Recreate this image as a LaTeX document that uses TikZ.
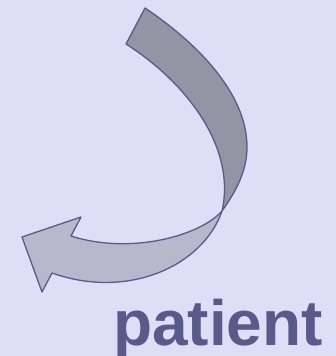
\documentclass[tikz,border=0pt]{standalone}
\usepackage{fontspec}
\setmainfont{Liberation Sans}
\definecolor{lavbg}{RGB}{224,222,246}
\definecolor{bandline}{RGB}{90,90,140}
\definecolor{banddark}{RGB}{148,148,164}
\definecolor{bandlight}{RGB}{184,184,204}
\definecolor{labelblue}{RGB}{90,90,138}
\tikzset{
  band edge/.style={draw=bandline,line width=1.3pt,line join=round},
  band back/.style={band edge,fill=bandlight},
  band front/.style={band edge,fill=banddark},
  big label/.style={inner sep=0pt,anchor=base west,text=labelblue,
    font=\fontsize{64}{64}\selectfont\bfseries}
}

\begin{document}
\begin{tikzpicture}[x=1pt,y=-1pt]
  \fill[lavbg] (0,0) rectangle (336,356);
  \useasboundingbox (0,0) rectangle (336,356);
  % twist and arrow end points
  \coordinate (twist) at (222,211);
  \coordinate (notchup) at (71,236);
  \coordinate (barbup) at (81,217);
  \coordinate (tip) at (22,237);
  \coordinate (barblow) at (42,292);
  \coordinate (notchlow) at (52,273);
  % lower ribbon with the arrow head
  \draw[band back]
    (twist) .. controls (200,236) and (130,255) .. (notchup)
    -- (barbup) -- (tip) -- (barblow) -- (notchlow)
    .. controls (128,300) and (203,266) .. (twist) -- cycle;
  % upper ribbon
  \draw[band front]
    (twist) .. controls (237,190) and (247,170) .. (247,147)
    .. controls (247,95) and (200,45) .. (145,8)
    -- (126,44)
    .. controls (190,85) and (236,150) .. (twist) -- cycle;

  \node[big label] (patient) at (113,345) {patient};
\end{tikzpicture}
\end{document}
